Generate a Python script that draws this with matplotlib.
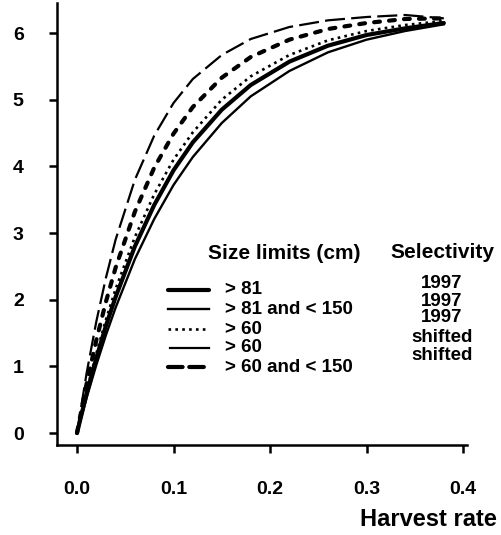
import matplotlib
matplotlib.use("Agg")
import matplotlib.pyplot as plt
from matplotlib.lines import Line2D

plt.rcParams['font.family'] = ['Liberation Sans', 'DejaVu Sans']

# ---- data ----
harvest_rate = [0.0, 0.01, 0.02, 0.03, 0.04, 0.06, 0.08, 0.10, 0.12, 0.15,
                0.18, 0.22, 0.26, 0.30, 0.34, 0.38]
gt81_1997 = [0.0, 0.59, 1.12, 1.61, 2.04, 2.80, 3.42, 3.94, 4.36, 4.85,
             5.22, 5.57, 5.81, 5.97, 6.07, 6.15]
gt81_lt150_1997 = [0.0, 0.53, 1.02, 1.47, 1.88, 2.61, 3.21, 3.72, 4.14, 4.65,
                   5.05, 5.43, 5.71, 5.90, 6.03, 6.13]
gt60_1997 = [0.0, 0.63, 1.19, 1.70, 2.16, 2.94, 3.58, 4.10, 4.51, 5.00,
             5.35, 5.67, 5.89, 6.03, 6.12, 6.18]
gt60_shifted = [0.0, 0.90, 1.67, 2.33, 2.90, 3.80, 4.46, 4.95, 5.31, 5.67,
                5.91, 6.09, 6.19, 6.24, 6.27, 6.22]
gt60_lt150_shifted = [0.0, 0.74, 1.39, 1.97, 2.48, 3.32, 3.98, 4.49, 4.89, 5.33,
                      5.64, 5.90, 6.06, 6.15, 6.21, 6.22]

size_labels = ["> 81", "> 81 and < 150", "> 60", "> 60", "> 60 and < 150"]
selectivity_labels = ["1997", "1997", "1997", "shifted", "shifted"]
x_ticks = [0.0, 0.1, 0.2, 0.3, 0.4]
x_tick_labels = ["0.0", "0.1", "0.2", "0.3", "0.4"]
y_ticks = [0, 1, 2, 3, 4, 5, 6]

W, H = 502, 535
fig = plt.figure(figsize=(W / 100, H / 100), dpi=100)

def fx(px):
    return px / W

def fy(py):
    return 1 - py / H

ax = fig.add_axes([fx(57), fy(445), fx(467) - fx(57), fy(3) - fy(445)])
ax.set_xlim(-0.0207, 0.404)
ax.set_ylim(-0.18, 6.45)

styles = [
    dict(color='black', lw=3.0, ls='-', solid_capstyle='round'),
    dict(color='black', lw=1.7, ls='-'),
    dict(color='black', lw=1.9, ls=(0, (1, 1.6))),
    dict(color='black', lw=1.6, ls=(0, (9.0, 2.8))),
    dict(color='black', lw=3.0, ls=(0, (1.4, 2.2)), dash_capstyle='round'),
]
series = [gt81_1997, gt81_lt150_1997, gt60_1997, gt60_shifted, gt60_lt150_shifted]
for ys, st in zip(series, styles):
    ax.plot(harvest_rate, ys, **st)

for s in ['top', 'right']:
    ax.spines[s].set_visible(False)
for s in ['left', 'bottom']:
    ax.spines[s].set_linewidth(1.8)

ax.set_xticks(x_ticks)
ax.set_xticklabels(x_tick_labels)
ax.set_yticks(y_ticks)
ax.tick_params(axis='x', direction='out', length=6, width=1.8, pad=20,
               labelsize=14)
ax.tick_params(axis='y', direction='out', length=6, width=1.8, pad=18,
               labelsize=14)
for lab in ax.get_xticklabels() + ax.get_yticklabels():
    lab.set_fontweight('bold')

fig.text(fx(497), fy(519), "Harvest rate", ha='right', va='center',
         fontsize=17, fontweight='bold')

# ---- legend drawn manually ----
fig.text(fx(208), fy(254), "Size limits (cm)", ha='left', va='center',
         fontsize=15, fontweight='bold')
fig.text(fx(442), fy(252), "Selectivity", ha='center', va='center',
         fontsize=15, fontweight='bold')

row_left = [290, 309, 329, 348, 367]
row_right = [284, 301, 318, 338, 356]
legend_styles = [
    dict(color='black', lw=3.0, ls='-', solid_capstyle='round'),
    dict(color='black', lw=1.7, ls='-'),
    dict(color='black', lw=1.9, ls=(0, (1, 1.6))),
    dict(color='black', lw=1.6, ls='-'),
    dict(color='black', lw=3.0, ls=(0, (3.5, 1.6)), dash_capstyle='round'),
]
for i in range(5):
    x0 = 170 if i == 3 else 168
    fig.add_artist(Line2D([fx(x0), fx(209)], [fy(row_left[i]), fy(row_left[i])],
                          transform=fig.transFigure, **legend_styles[i]))
    fig.text(fx(225), fy(row_left[i]), size_labels[i], ha='left', va='center',
             fontsize=13.5, fontweight='bold')
    fig.text(fx(442), fy(row_right[i]), selectivity_labels[i], ha='center',
             va='center', fontsize=13.5, fontweight='bold')

fig.savefig("out.png", dpi=100)
